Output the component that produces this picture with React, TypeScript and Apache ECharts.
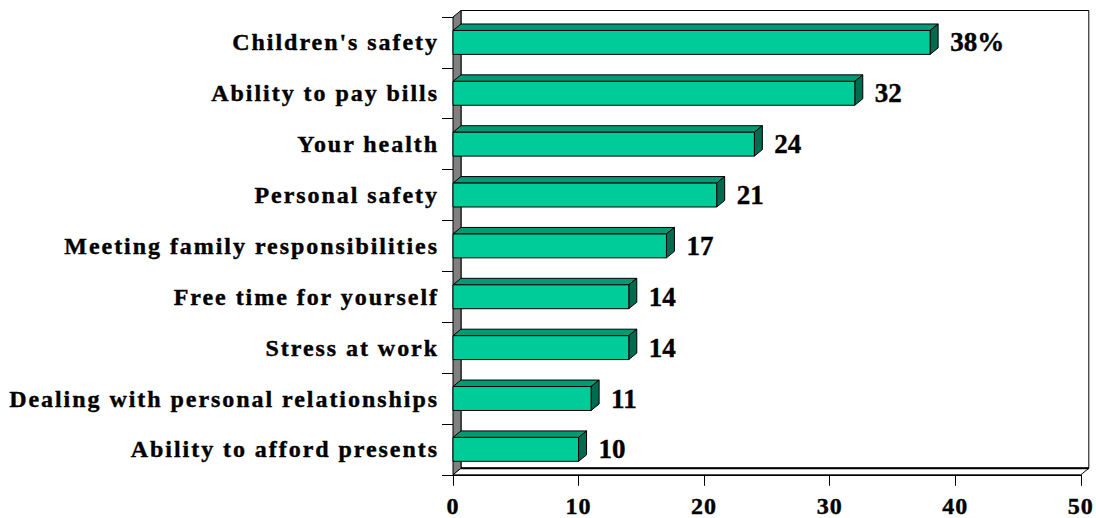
import React, { useEffect, useRef } from "react";
import * as echarts from "echarts";

const categories = [
  "Children's safety",
  "Ability to pay bills",
  "Your health",
  "Personal safety",
  "Meeting family responsibilities",
  "Free time for yourself",
  "Stress at work",
  "Dealing with personal relationships",
  "Ability to afford presents",
];
const values = [38, 32, 24, 21, 17, 14, 14, 11, 10];
const valueLabels = ["38%", "32", "24", "21", "17", "14", "14", "11", "10"];
const xMin = 0;
const xMax = 50;
const xInterval = 10;

const DX = 8;
const DY = -6.5;
const FRONT = "#00cc99";
const TOP = "#009a74";
const SIDE = "#006b4f";
const FONT = "'Liberation Serif', 'Times New Roman', serif";

export default function App() {
  const ref = useRef<HTMLDivElement>(null);
  useEffect(() => {
    if (!ref.current) return;
    const chart = echarts.init(ref.current, null, { renderer: "svg" });
    const option: any = {
      animation: false,
      grid: { left: 453, right: 13, top: 17, bottom: 41, containLabel: false },
      xAxis: {
        type: "value",
        min: xMin,
        max: xMax,
        interval: xInterval,
        splitLine: { show: false },
        axisLine: { show: true, lineStyle: { color: "#000", width: 1 } },
        axisTick: { show: true, length: 11, lineStyle: { color: "#000" } },
        axisLabel: {
          margin: 19,
          color: "#000",
          fontSize: 24,
          fontWeight: "bold",
          fontFamily: FONT,
          textBorderColor: "#000",
          textBorderWidth: 0.4,
        },
      },
      yAxis: {
        type: "category",
        inverse: true,
        data: categories,
        axisLine: { show: true, lineStyle: { color: "#000", width: 1 } },
        axisTick: { show: true, length: 11, lineStyle: { color: "#000" } },
        axisLabel: {
          margin: 14,
          color: "#000",
          fontSize: 24,
          fontWeight: "bold",
          fontFamily: FONT,
          textBorderColor: "#000",
          textBorderWidth: 0.4,
        },
        splitLine: { show: false },
      },
      series: [
        {
          type: "custom",
          silent: true,
          z: 1,
          data: [[0, 0]],
          encode: { x: 0, y: 1 },
          renderItem: (params: any) => {
            const cs = params.coordSys;
            const x = cs.x,
              y = cs.y,
              w = cs.width,
              h = cs.height;
            return {
              type: "group",
              children: [
                {
                  type: "rect",
                  shape: { x: x + DX, y: y + DY, width: w, height: h },
                  style: { fill: "#fff", stroke: "#000", lineWidth: 1 },
                },
                {
                  type: "polygon",
                  shape: {
                    points: [
                      [x, y],
                      [x + DX, y + DY],
                      [x + DX, y + h + DY],
                      [x, y + h],
                    ],
                  },
                  style: { fill: "#808080", stroke: "#000", lineWidth: 1 },
                },
                {
                  type: "polygon",
                  shape: {
                    points: [
                      [x, y + h],
                      [x + DX, y + h + DY],
                      [x + w + DX, y + h + DY],
                      [x + w, y + h],
                    ],
                  },
                  style: { fill: "#fff", stroke: "#000", lineWidth: 1 },
                },
                {
                  type: "line",
                  shape: { x1: x + DX, y1: y + h + DY, x2: x + w + DX, y2: y + h + DY },
                  style: { stroke: "#000", lineWidth: 2 },
                },
              ],
            };
          },
        },
        {
          type: "custom",
          silent: true,
          z: 2,
          data: values.map((v, i) => [v, i]),
          encode: { x: 0, y: 1 },
          renderItem: (params: any, api: any) => {
            const v = api.value(0);
            const idx = api.value(1);
            const p1 = api.coord([v, idx]);
            const p0 = api.coord([0, idx]);
            const band = api.size([0, 1])[1];
            const bh = band * 0.47;
            const x0 = p0[0];
            const x1 = p1[0];
            const cy = p1[1];
            const top = cy - bh / 2;
            const bot = cy + bh / 2;
            return {
              type: "group",
              children: [
                {
                  type: "polygon",
                  shape: {
                    points: [
                      [x0, top],
                      [x0 + DX, top + DY],
                      [x1 + DX, top + DY],
                      [x1, top],
                    ],
                  },
                  style: { fill: TOP, stroke: "#000", lineWidth: 1 },
                },
                {
                  type: "polygon",
                  shape: {
                    points: [
                      [x1, top],
                      [x1 + DX, top + DY],
                      [x1 + DX, bot + DY],
                      [x1, bot],
                    ],
                  },
                  style: { fill: SIDE, stroke: "#000", lineWidth: 1 },
                },
                {
                  type: "rect",
                  shape: { x: x0, y: top, width: x1 - x0, height: bh },
                  style: { fill: FRONT, stroke: "#000", lineWidth: 1 },
                },
                {
                  type: "text",
                  x: x1 + 20,
                  y: cy,
                  style: {
                    text: valueLabels[idx],
                    fontSize: 27,
                    fontWeight: "bold",
                    fontFamily: FONT,
                    fill: "#000",
                    stroke: "#000",
                    lineWidth: 0.4,
                    align: "left",
                    verticalAlign: "middle",
                  },
                },
              ],
            };
          },
        },
      ],
    };
    chart.setOption(option);

    const catSet = new Set(categories);
    const tickSet = new Set(["0", "10", "20", "30", "40", "50"]);
    const applySpacing = () => {
      const dom = ref.current;
      if (!dom) return;
      dom.querySelectorAll("text").forEach((t: any) => {
        const s = (t.textContent || "").trim();
        if (catSet.has(s)) {
          t.style.letterSpacing = "1.95px";
        } else if (tickSet.has(s) && t.getAttribute("text-anchor") === "middle") {
          t.style.letterSpacing = "1px";
        }
      });
    };
    applySpacing();
    chart.on("finished", applySpacing);
    const raf = requestAnimationFrame(applySpacing);
    return () => {
      cancelAnimationFrame(raf);
      chart.dispose();
    };
  }, []);
  return (
    <div
      ref={ref}
      style={{ position: "absolute", left: 0, top: 0, width: 1096, height: 518 }}
    />
  );
}
